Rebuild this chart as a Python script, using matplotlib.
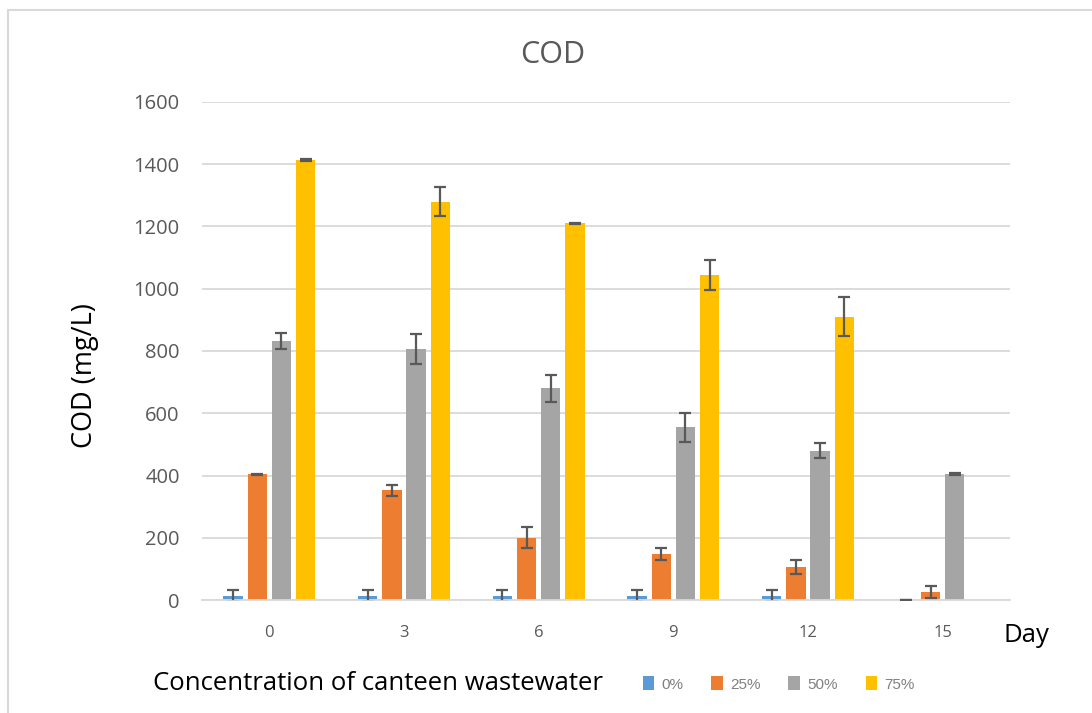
import numpy as np
import matplotlib.pyplot as plt
from matplotlib.patches import Rectangle

# data
days = ['0', '3', '6', '9', '12', '15']
series = ['0%', '25%', '50%', '75%']
cod_0 = [12, 12, 12, 12, 12, 0]
cod_25 = [404, 352, 200, 148, 107, 26]
cod_50 = [832, 807, 680, 555, 480, 405]
cod_75 = [1414, 1280, 1210, 1045, 910, np.nan]
err_0 = [20, 20, 20, 20, 20, 0]
err_25 = [2, 17, 34, 20, 22, 20]
err_50 = [25, 48, 43, 47, 24, 2]
err_75 = [3, 47, 2, 48, 62, np.nan]

colors = ['#5B9BD5', '#ED7D31', '#A5A5A5', '#FFC000']

fig = plt.figure(figsize=(10.92, 7.13), dpi=100)
ax = fig.add_axes([202/1092, 1-600/713, 808/1092, 498/713])

x = np.arange(len(days))
vals = [cod_0, cod_25, cod_50, cod_75]
errs = [err_0, err_25, err_50, err_75]
step = 0.18
width = 0.143
for i in range(4):
    pos = x + (i - 1.5)*step
    ax.bar(pos, vals[i], width, color=colors[i], label=series[i], zorder=2)
    ax.errorbar(pos, vals[i], yerr=errs[i], fmt='none', ecolor='#595959',
                elinewidth=1.6, capsize=4.5, capthick=1.6, zorder=3)

ax.set_xlim(-0.5, len(days)-0.5)
ax.set_ylim(0, 1600)
ax.set_yticks(range(0, 1601, 200))
ax.set_xticks(x)
ax.set_xticklabels(days)
ax.grid(axis='y', color='#D9D9D9', linewidth=1.3, zorder=0)
for s in ['top', 'right', 'left']:
    ax.spines[s].set_visible(False)
ax.spines['bottom'].set_color('#D9D9D9')
ax.spines['bottom'].set_linewidth(1.3)
ax.tick_params(axis='both', length=0)
ax.tick_params(axis='y', pad=16, labelsize=14.5, labelcolor='#595959')
ax.tick_params(axis='x', pad=18, labelsize=12, labelcolor='#595959')
for lab in ax.get_yticklabels() + ax.get_xticklabels():
    lab.set_family('Open Sans')

fig.text(553/1092, 1-55/713, 'COD', ha='center', va='center', fontsize=22,
         color='#595959', family='Open Sans')
fig.text(85/1092, 1-376/713, 'COD (mg/L)', ha='center', va='center', rotation=90,
         fontsize=19.5, color='black', family='Open Sans')
fig.text(1004/1092, 1-635/713, 'Day', ha='left', va='center', fontsize=18.5,
         color='black', family='Open Sans')
fig.text(153/1092, 1-683/713, 'Concentration of canteen wastewater', ha='left',
         va='center', fontsize=18.5, color='black', family='Open Sans')

leg = ax.legend(loc='center left', bbox_to_anchor=(629/1092, 1-684/713),
                bbox_transform=fig.transFigure, ncol=4, frameon=False,
                handlelength=0.75, handleheight=1.0, handletextpad=0.5,
                columnspacing=1.8, prop={'family': 'Liberation Sans', 'size': 11})
for t in leg.get_texts():
    t.set_color('#808080')

# chart area border
fig.patches.append(Rectangle((8/1092, -0.1), 1.2, 1-10/713+0.1,
                             transform=fig.transFigure, fill=False,
                             edgecolor='#D9D9D9', linewidth=1.5))

plt.savefig('out.png', dpi=100)
